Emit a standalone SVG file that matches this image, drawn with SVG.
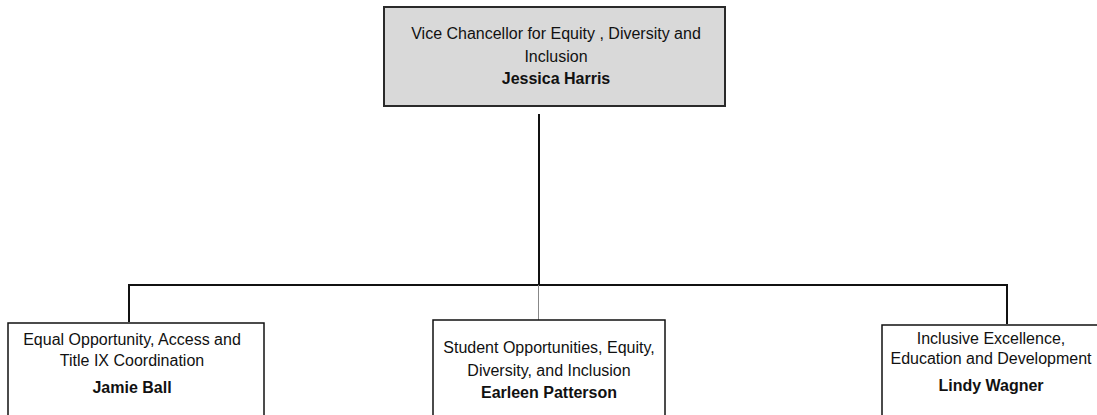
<svg xmlns="http://www.w3.org/2000/svg" width="1097" height="415" viewBox="0 0 1097 415">
<style>
.box{fill:#ffffff;stroke:#111111;stroke-width:1.5}
.top{fill:#d9d9d9;stroke:#2a2a2a;stroke-width:2}
.t{font-family:"Liberation Sans",Arial,sans-serif;font-size:16px;fill:#111111;text-anchor:middle}
.b{font-weight:bold}
.c{fill:none;stroke:#111111;stroke-width:2}
.c2{fill:none;stroke:#888888;stroke-width:1}
</style>
<rect width="1097" height="415" fill="#ffffff"/>
<g id="connectors">
<line class="c" x1="539" y1="114" x2="539" y2="285"/>
<polyline class="c" points="129,322 129,285 1007,285 1007,324"/>
<line class="c2" x1="538.5" y1="285" x2="538.5" y2="320"/>
</g>
<g id="vc">
<rect class="top" x="384" y="7" width="341" height="99"/>
<text class="t" x="556" y="39">Vice Chancellor for Equity , Diversity and</text>
<text class="t" x="556" y="62">Inclusion</text>
<text class="t b" x="556" y="84">Jessica Harris</text>
</g>
<g id="equal">
<rect class="box" x="8" y="323" width="256" height="100"/>
<text class="t" x="132" y="345">Equal Opportunity, Access and</text>
<text class="t" x="132" y="366">Title IX Coordination</text>
<text class="t b" x="132" y="393">Jamie Ball</text>
</g>
<g id="student">
<rect class="box" x="433" y="320" width="232" height="100"/>
<text class="t" x="549" y="353">Student Opportunities, Equity,</text>
<text class="t" x="549" y="376">Diversity, and Inclusion</text>
<text class="t b" x="549" y="398">Earleen Patterson</text>
</g>
<g id="inclusive">
<rect class="box" x="882" y="325" width="230" height="100"/>
<text class="t" x="991" y="344">Inclusive Excellence,</text>
<text class="t" x="991" y="364">Education and Development</text>
<text class="t b" x="991" y="391">Lindy Wagner</text>
</g>
</svg>
